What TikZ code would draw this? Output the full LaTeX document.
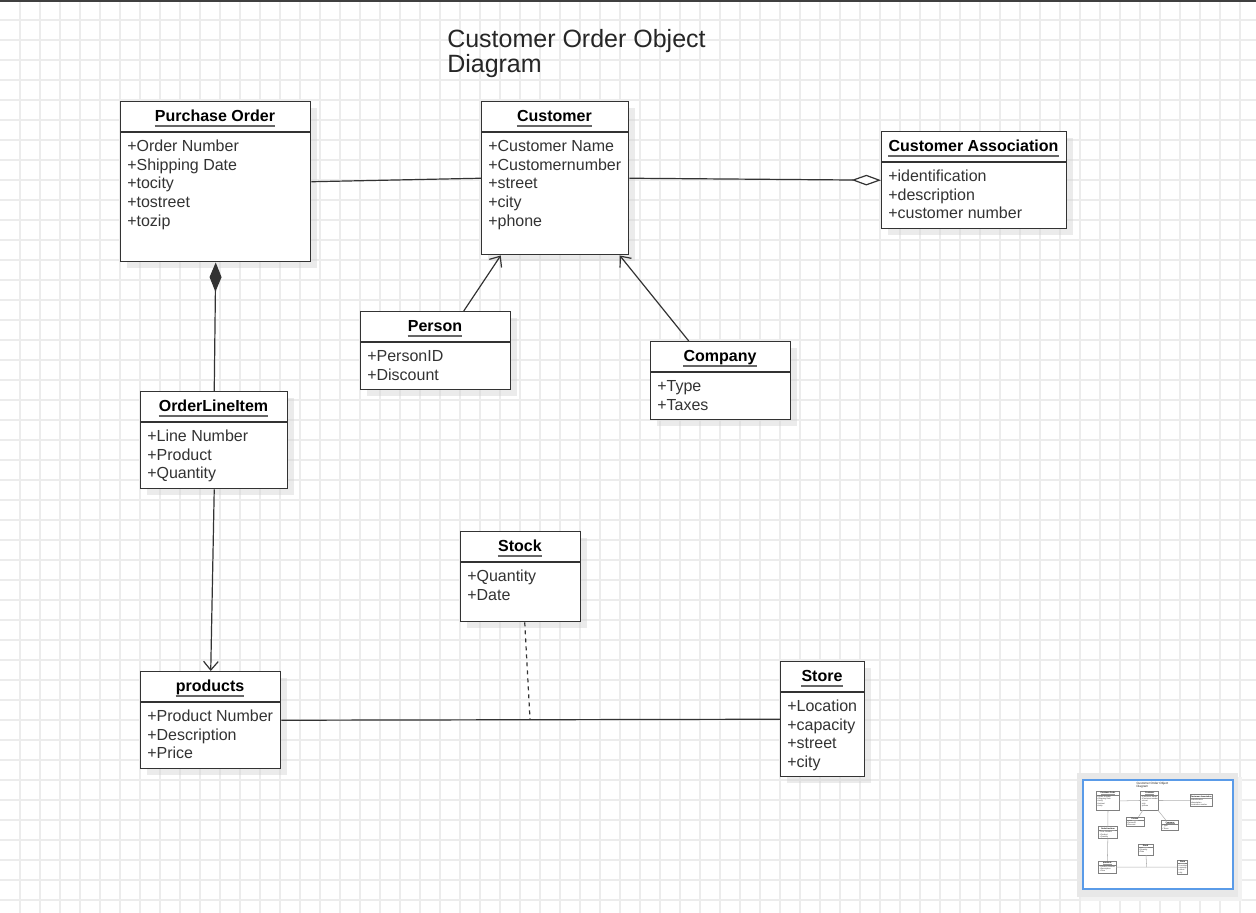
\documentclass[tikz,border=0pt]{standalone}
\usepackage{fontspec}
\setmainfont{Liberation Sans}
\usetikzlibrary{arrows.meta,calc,shadows}
\definecolor{Ink}{HTML}{333333}
\definecolor{GridGray}{HTML}{ECECEC}
\definecolor{ShadowGray}{HTML}{CFCFCF}
\definecolor{MapBlue}{HTML}{5A9BE8}

\tikzset{
  boxshadow/.style={drop shadow={shadow xshift=5pt,shadow yshift=-5pt,
    fill=ShadowGray,opacity=0.4}},
  classbox/.style={boxshadow,draw=Ink,fill=white,line width=1.1pt,
    anchor=north west,inner sep=0pt},
  divider/.style={draw=Ink,line width=1.1pt},
  classname/.style={font=\fontsize{12}{14}\selectfont\bfseries,text=black,
    inner sep=0pt,anchor=base},
  nameline/.style={draw=black!60,line width=1.5pt},
  attr/.style={font=\fontsize{12}{14}\selectfont,text=Ink,inner sep=0pt,
    anchor=base west},
  diagtitle/.style={font=\fontsize{18.75}{18.75}\selectfont,text=black!85,
    align=left,anchor=north west,inner sep=0pt},
  gridline/.style={draw=GridGray,line width=0.8pt},
  link/.style={draw=Ink,line width=0.9pt},
  compo/.style={link,{Diamond[length=22pt,width=9pt]}-},
  aggr/.style={link,-{Diamond[fill=white,length=22pt,width=8pt]}},
  navig/.style={link,-{Straight Barb[length=6.5pt,width=11pt]}},
  dashlink/.style={link,dashed},
}

% class box: name, x, y, width, height, title, attributes
\newcommand{\umlclass}[7]{%
  \node[classbox,minimum width=#4*0.75pt,minimum height=#5*0.75pt] (#1) at (#2,#3) {};
  \draw[divider] (#2,#3+31) -- (#2+#4,#3+31);
  \node[classname] (#1-name) at (#2+#4/2,#3+20.5) {#6};
  \draw[nameline] ([yshift=-3.3pt]#1-name.base west) -- ([yshift=-3.3pt]#1-name.base east);
  \foreach \a [count=\i from 0] in {#7}
    \node[attr] (#1-a\i) at (#2+7,#3+50.5+18.7*\i) {\a};
}

% whole diagram, #1 = name prefix
\newcommand{\drawdiagram}[1]{%
  \node[diagtitle] (#1title) at (447,29) {Customer Order Object\\Diagram};
  \umlclass{#1po}{120}{101}{190}{160}{Purchase Order}
    {+Order Number,+Shipping Date,+tocity,+tostreet,+tozip}
  \umlclass{#1cust}{481}{101}{147}{153}{Customer}
    {+Customer Name,+Customernumber,+street,+city,+phone}
  \umlclass{#1assoc}{881}{131}{185}{97}{Customer Association}
    {+identification,+description,+customer number}
  \umlclass{#1person}{360}{311}{150}{78}{Person}{+PersonID,+Discount}
  \umlclass{#1company}{650}{341}{140}{78}{Company}{+Type,+Taxes}
  \umlclass{#1oli}{140}{391}{147}{97}{OrderLineItem}
    {+Line Number,+Product,+Quantity}
  \umlclass{#1stock}{460}{531}{120}{90}{Stock}{+Quantity,+Date}
  \umlclass{#1prod}{140}{671}{140}{97}{products}
    {+Product Number,+Description,+Price}
  \umlclass{#1store}{780}{661}{84}{115}{Store}
    {+Location,+capacity,+street,+city}

  \draw[link] (#1po.east) -- (#1cust.west);
  \draw[aggr] (#1cust.east) -- (#1assoc.west);
  \draw[compo] (#1po.south) -- (#1oli.north);
  \draw[navig] ($(#1person.north)+(28,0)$) -- ($(#1cust.south)+(-54.5,0)$);
  \draw[navig] ($(#1company.north)+(-32,0)$) -- ($(#1cust.south)+(64.5,0)$);
  \draw[navig] (#1oli.south) -- (#1prod.north);
  \draw[link] (#1prod.east) -- (#1store.west);
  \coordinate (#1stockjoin) at (530,719);
  \draw[dashlink] ($(#1stock.south)+(4,0)$) -- (#1stockjoin);
}

\begin{document}
\begin{tikzpicture}[x=0.75pt,y=-0.75pt]
  \useasboundingbox (0,0) rectangle (1256,913);
  \fill[white] (0,0) rectangle (1256,913);
  % grid paper
  \foreach \gx in {20,40,...,1240}
    \draw[gridline] (\gx,0) -- (\gx,913);
  \foreach \gy in {20,40,...,900}
    \draw[gridline] (0,\gy) -- (1256,\gy);
  \draw[black!75,line width=1.5pt] (0,0.8) -- (1256,0.8);

  \drawdiagram{}

  % overview panel
  \fill[black!5] (1081,777) rectangle (1242,901);
  \fill[black!9] (1077,773) rectangle (1238,897);
  \fill[white] (1083,780) rectangle (1233,890);
  \draw[MapBlue,line width=1.1pt] (1083,780) rectangle (1233,889);
  \begin{scope}[shift={(1081.5,778.6)},scale=0.123,
      every node/.append style={transform shape},
      boxshadow/.style={},
      classbox/.append style={draw=black!50,line width=0.5pt},
      divider/.style={draw=black!50,line width=0.4pt},
      nameline/.style={draw=black!40,line width=0.2pt},
      link/.style={draw=black!30,line width=0.4pt},
      compo/.style={link},aggr/.style={link},navig/.style={link},
      dashlink/.style={link}]
    \drawdiagram{mini}
  \end{scope}
\end{tikzpicture}
\end{document}
